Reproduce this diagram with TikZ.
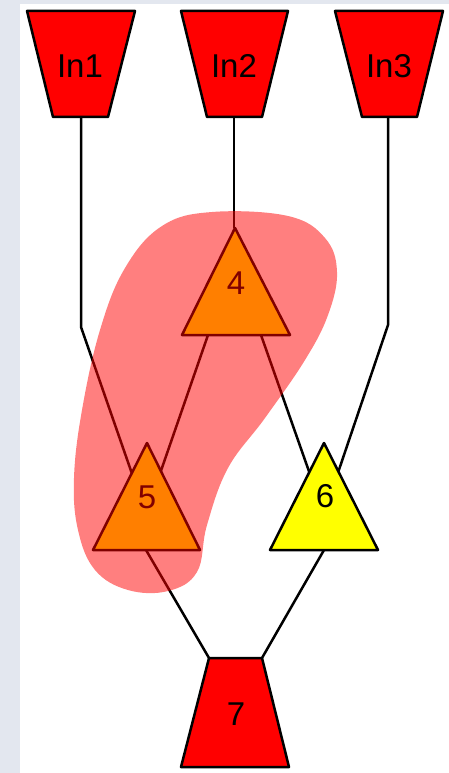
\documentclass[tikz,border=0pt]{standalone}
\usepackage{fontspec}
\setmainfont{Liberation Sans}
\definecolor{bgc}{HTML}{E3E7EF}
\definecolor{yel}{HTML}{FFFF00}
\begin{document}
\begin{tikzpicture}[x=1pt,y=-1pt,
  shp/.style={draw=black,line width=2.5pt,line join=round},
  wire/.style={draw=black,line width=2.5pt},
  lbl/.style={inner sep=0pt,font=\fontsize{33}{33}\selectfont,text=black},
  blobfill/.style={fill=red,fill opacity=0.5}]
\useasboundingbox (0,0) rectangle (449,773);
\fill[bgc] (0,0) rectangle (449,773);
\fill[white] (20,4) rectangle (449,773);
% connection points
\coordinate (in1s) at (81,117);
\coordinate (in2s) at (234,117);
\coordinate (in3s) at (388,117);
\coordinate (b1) at (81,327);
\coordinate (b3) at (388,325);
\coordinate (t4a) at (234,228);
\coordinate (t4l) at (208,335);
\coordinate (t4r) at (261,335);
\coordinate (c5) at (146,514);
\coordinate (c6) at (324,514);
\coordinate (t5s) at (146,550);
\coordinate (t6s) at (324,550);
\coordinate (n7l) at (209,658);
\coordinate (n7r) at (262,658);
% connectors
\draw[wire] (in1s) -- (b1) -- (c5);
\draw[wire] (in2s) -- (t4a);
\draw[wire] (in3s) -- (b3) -- (c6);
\draw[wire] (t4l) -- (c5);
\draw[wire] (t4r) -- (c6);
\draw[wire] (t5s) -- (n7l);
\draw[wire] (t6s) -- (n7r);
% input trapezoids
\draw[shp,fill=red] (27,11) -- (135,11) -- (108,117) -- (53,117) -- cycle;
\draw[shp,fill=red] (181,11) -- (288,11) -- (262,117) -- (207,117) -- cycle;
\draw[shp,fill=red] (335,11) -- (443,11) -- (417,117) -- (362,117) -- cycle;
\node[lbl] (in1) at (80,66) {In1};
\node[lbl] (in2) at (234,66) {In2};
\node[lbl] (in3) at (389,66) {In3};
% triangles
\draw[shp,fill=yel] (235,228) -- (290,335) -- (182,335) -- cycle;
\draw[shp,fill=yel] (147,443) -- (200,550) -- (93,550) -- cycle;
\draw[shp,fill=yel] (324,443) -- (378,550) -- (270,550) -- cycle;
\node[lbl] (n4) at (236,283) {4};
\node[lbl] (n5) at (147,497) {5};
\node[lbl] (n6) at (325,496) {6};
% output trapezoid
\draw[shp,fill=red] (209,658) -- (262,658) -- (289,767) -- (181,767) -- cycle;
\node[lbl] (n7) at (236,714) {7};
% highlighted region
\fill[blobfill] plot[smooth cycle,tension=0.65] coordinates {
  (212,212) (288,216) (325,238) (337,272) (328,315) (305,360)
  (265,418) (228,468) (207,525) (197,572) (168,591) (128,590)
  (95,570) (78,530) (74,478) (82,410) (100,330) (125,268) (162,226)};
\end{tikzpicture}
\end{document}
